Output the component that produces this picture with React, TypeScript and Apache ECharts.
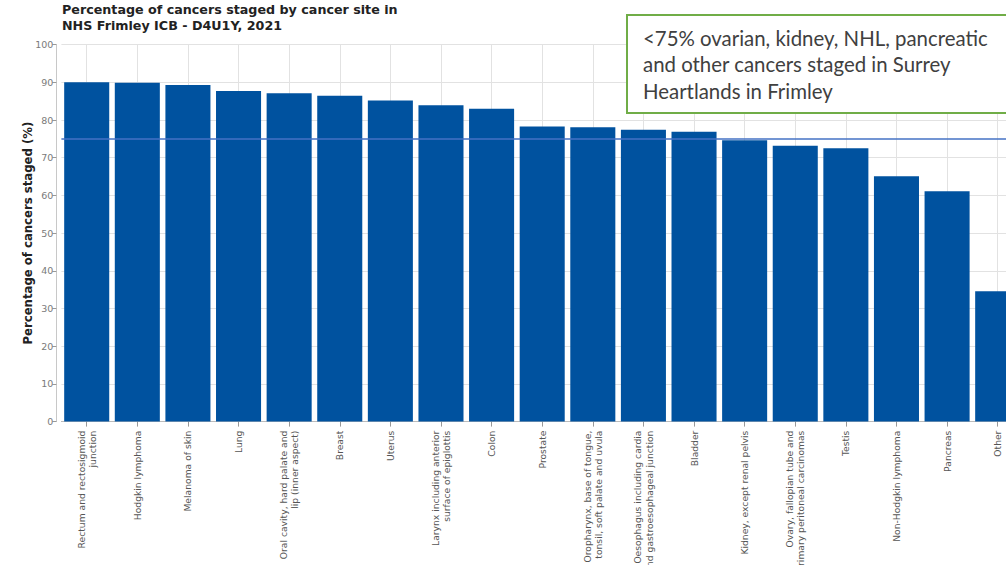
import React, { useEffect, useRef } from "react";
import * as echarts from "echarts";

const categories: string[] = [
  "Rectum and rectosigmoid\njunction",
  "Hodgkin lymphoma",
  "Melanoma of skin",
  "Lung",
  "Oral cavity, hard palate and\nlip (inner aspect)",
  "Breast",
  "Uterus",
  "Larynx including anterior\nsurface of epiglottis",
  "Colon",
  "Prostate",
  "Oropharynx, base of tongue,\ntonsil, soft palate and uvula",
  "Oesophagus including cardia\nand gastroesophageal junction",
  "Bladder",
  "Kidney, except renal pelvis",
  "Ovary, fallopian tube and\nprimary peritoneal carcinomas",
  "Testis",
  "Non-Hodgkin lymphoma",
  "Pancreas",
  "Other",
];

const stagedPct: number[] = [
  90.0, 89.9, 89.3, 87.7, 87.1, 86.4, 85.2, 83.9, 83.0, 78.3, 78.1, 77.4, 76.9,
  74.6, 73.2, 72.5, 65.1, 61.1, 34.6,
];

const targetPct = 75;

const titleLines: string[] = [
  "Percentage of cancers staged by cancer site in",
  "NHS Frimley ICB - D4U1Y, 2021",
];

const noteLines: string[] = [
  "<75% ovarian, kidney, NHL, pancreatic",
  "and other cancers staged in Surrey",
  "Heartlands in Frimley",
];

const yAxisTitle = "Percentage of cancers staged (%)";

export default function App() {
  const ref = useRef<HTMLDivElement>(null);

  useEffect(() => {
    if (!ref.current) return;
    const chart = echarts.init(ref.current, null, { renderer: "svg" });
    chart.setOption({
      animation: false,
      backgroundColor: "#ffffff",
      title: {
        text: titleLines.join("\n"),
        left: 62,
        top: 1,
        padding: 0,
        textStyle: {
          fontFamily: "DejaVu Sans",
          fontWeight: "bold",
          fontSize: 12.7,
          lineHeight: 16.5,
          color: "#222222",
        },
      },
      grid: {
        left: 61.4,
        right: -17,
        top: 44.6,
        bottom: 143.4,
        containLabel: false,
        outerBoundsMode: "none",
      },
      xAxis: {
        type: "category",
        data: categories,
        axisLine: { show: true, lineStyle: { color: "#BBBBBB", width: 1 } },
        axisTick: {
          show: true,
          alignWithLabel: true,
          length: 5,
          lineStyle: { color: "#999999" },
        },
        splitLine: {
          show: true,
          alignWithLabel: true,
          lineStyle: { color: "#E2E2E2", width: 1 },
        },
        axisLabel: {
          rotate: 90,
          margin: 9,
          interval: 0,
          hideOverlap: false,
          fontFamily: "DejaVu Sans",
          fontSize: 9.2,
          lineHeight: 11.2,
          color: "#555555",
        },
      },
      yAxis: {
        type: "value",
        min: 0,
        max: 100,
        interval: 10,
        offset: 5,
        name: yAxisTitle,
        nameLocation: "middle",
        nameGap: 22,
        nameMoveOverlap: false,
        nameTextStyle: {
          fontFamily: "DejaVu Sans",
          fontWeight: "bold",
          fontSize: 11.7,
          color: "#222222",
        },
        axisLine: { show: true, lineStyle: { color: "#C8C8C8" } },
        axisTick: { show: true, length: 4, lineStyle: { color: "#999999" } },
        axisLabel: {
          margin: 3,
          fontFamily: "DejaVu Sans",
          fontSize: 9.5,
          color: "#7a7a7a",
        },
        splitLine: { show: true, lineStyle: { color: "#E2E2E2", width: 1 } },
      },
      series: [
        {
          type: "bar",
          data: stagedPct,
          barCategoryGap: "11%",
          itemStyle: { color: "#00529F" },
          markLine: {
            silent: true,
            symbol: "none",
            label: { show: false },
            lineStyle: { color: "#4472C4", width: 1.6, type: "solid" },
            data: [{ yAxis: targetPct }],
          },
        },
      ],
      graphic: [
        {
          type: "rect",
          z: 100,
          shape: { x: 627, y: 15, width: 420, height: 98 },
          style: { fill: "#ffffff", stroke: "#70AD47", lineWidth: 2 },
        },
        {
          type: "text",
          z: 101,
          x: 643,
          y: 24.5,
          style: {
            text: noteLines.join("\n"),
            font: "20.4px Lato",
            lineHeight: 26.5,
            fill: "#404040",
            verticalAlign: "top",
          },
        },
      ],
    });
    return () => chart.dispose();
  }, []);

  return (
    <div
      ref={ref}
      style={{ position: "absolute", left: 0, top: 0, width: 1006, height: 565 }}
    />
  );
}
